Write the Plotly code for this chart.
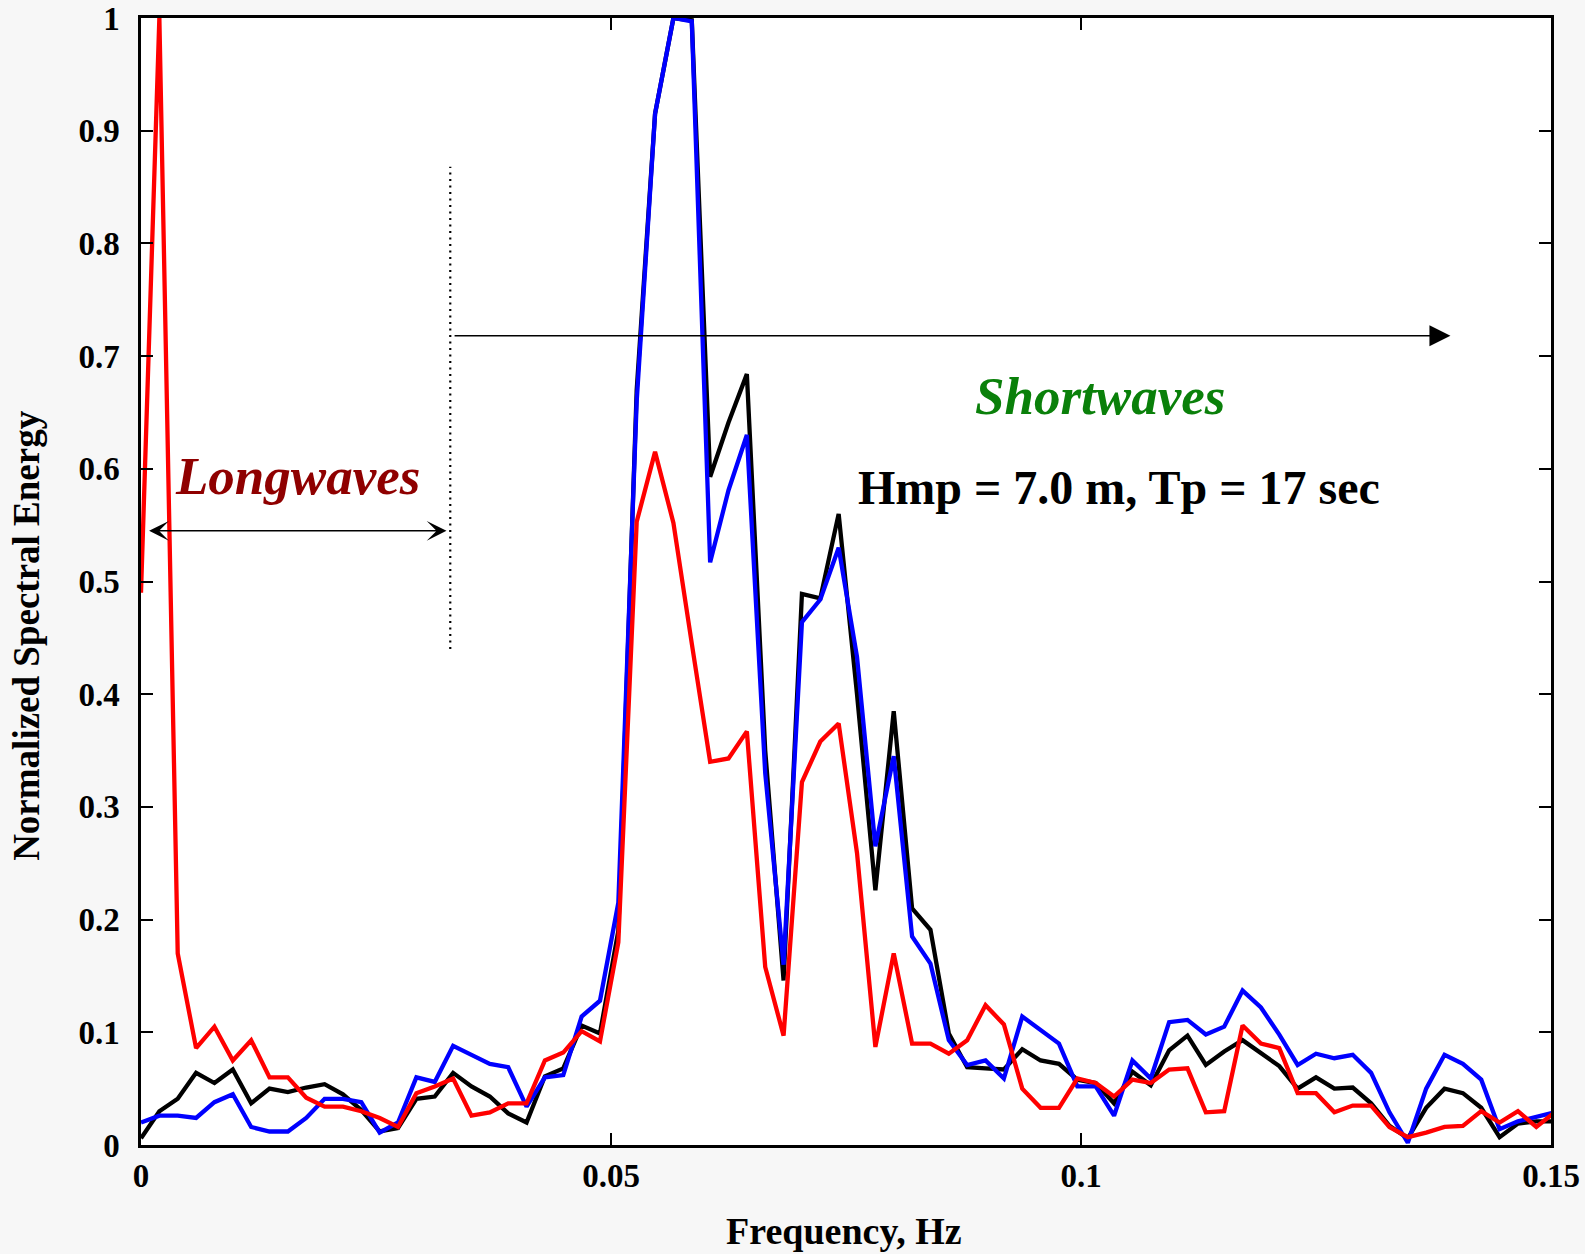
import plotly.graph_objects as go

# Spectral bins: uniform spacing of 1/512 Hz
n_bins = 78
freq = [i / 512 for i in range(n_bins)]

energy_black = [
    0.006, 0.030, 0.041, 0.064, 0.055, 0.067, 0.037, 0.050, 0.047, 0.051,
    0.054, 0.045, 0.031, 0.012, 0.015, 0.041, 0.043, 0.064, 0.052, 0.043,
    0.028, 0.020, 0.061, 0.068, 0.106, 0.099, 0.190, 0.670, 0.915, 1.000,
    0.998, 0.593, 0.641, 0.684, 0.350, 0.146, 0.489, 0.485, 0.560, 0.400,
    0.226, 0.385, 0.210, 0.191, 0.099, 0.069, 0.068, 0.067, 0.085, 0.075,
    0.072, 0.058, 0.055, 0.037, 0.065, 0.053, 0.084, 0.097, 0.071, 0.083,
    0.093, 0.081, 0.070, 0.050, 0.060, 0.050, 0.051, 0.037, 0.017, 0.006,
    0.033, 0.050, 0.046, 0.033, 0.007, 0.019, 0.021, 0.021,
]

energy_blue = [
    0.020, 0.026, 0.026, 0.024, 0.038, 0.045, 0.016, 0.012, 0.012, 0.024,
    0.041, 0.041, 0.038, 0.011, 0.020, 0.060, 0.056, 0.088, 0.080, 0.072,
    0.069, 0.034, 0.060, 0.062, 0.114, 0.128, 0.215, 0.660, 0.915, 1.000,
    0.997, 0.517, 0.581, 0.630, 0.330, 0.160, 0.464, 0.484, 0.530, 0.433,
    0.265, 0.345, 0.185, 0.161, 0.093, 0.071, 0.075, 0.059, 0.114, 0.102,
    0.090, 0.052, 0.052, 0.026, 0.075, 0.059, 0.109, 0.111, 0.098, 0.105,
    0.137, 0.122, 0.098, 0.071, 0.081, 0.077, 0.080, 0.064, 0.029, 0.002,
    0.050, 0.080, 0.072, 0.058, 0.014, 0.021, 0.025, 0.029,
]

energy_red = [
    0.490, 1.000, 0.170, 0.086, 0.105, 0.075, 0.093, 0.060, 0.060, 0.042,
    0.034, 0.034, 0.030, 0.024, 0.016, 0.046, 0.052, 0.059, 0.026, 0.029,
    0.037, 0.037, 0.075, 0.082, 0.101, 0.092, 0.180, 0.553, 0.615, 0.552,
    0.445, 0.340, 0.343, 0.367, 0.158, 0.097, 0.322, 0.358, 0.374, 0.259,
    0.087, 0.170, 0.090, 0.090, 0.081, 0.093, 0.124, 0.107, 0.050, 0.033,
    0.033, 0.059, 0.055, 0.043, 0.058, 0.055, 0.067, 0.068, 0.029, 0.030,
    0.106, 0.090, 0.086, 0.046, 0.046, 0.029, 0.035, 0.035, 0.016, 0.007,
    0.011, 0.016, 0.017, 0.030, 0.020, 0.030, 0.016, 0.029,
]

x_ticks = [0, 0.05, 0.1, 0.15]
x_tick_labels = ["0", "0.05", "0.1", "0.15"]
y_ticks = [0, 0.1, 0.2, 0.3, 0.4, 0.5, 0.6, 0.7, 0.8, 0.9, 1.0]
y_tick_labels = ["0", "0.1", "0.2", "0.3", "0.4", "0.5", "0.6", "0.7", "0.8", "0.9", "1"]

# Band separator and annotation anchors (data units)
split_freq = 0.0329
split_low, split_high = 0.44, 0.868
long_arrow_y = 0.545
short_arrow_y = 0.718
short_arrow_end = 0.1393

serif = "Liberation Serif, Times New Roman, serif"

fig = go.Figure()
for series, color in [(energy_black, "#000000"), (energy_blue, "#0000ff"), (energy_red, "#ff0000")]:
    fig.add_trace(go.Scatter(
        x=freq, y=series, mode="lines",
        line=dict(color=color, width=4.3),
        showlegend=False, hoverinfo="skip",
    ))

# Dotted divider between long- and short-wave bands
fig.add_shape(
    type="line", xref="x", yref="y",
    x0=split_freq, x1=split_freq, y0=split_low, y1=split_high,
    line=dict(color="#000000", width=2.2, dash="2px,4.5px"),
)

annotations = [
    # double-headed arrow spanning the long-wave band
    dict(x=split_freq - 0.0004, y=long_arrow_y, ax=0.0007, ay=long_arrow_y,
         xref="x", yref="y", axref="x", ayref="y", text="",
         showarrow=True, arrowhead=3, startarrowhead=3, arrowside="end+start",
         arrowsize=2.2, startarrowsize=2.2, arrowwidth=1.5, arrowcolor="#000000",
         standoff=0, startstandoff=0),
    # arrow into the short-wave band
    dict(x=short_arrow_end, y=short_arrow_y, ax=split_freq + 0.0003, ay=short_arrow_y,
         xref="x", yref="y", axref="x", ayref="y", text="",
         showarrow=True, arrowhead=2, arrowsize=2.8, arrowwidth=1.5,
         arrowcolor="#000000", standoff=0),
    dict(x=0.0167, y=0.594, xref="x", yref="y", text="Longwaves", showarrow=False,
         font=dict(family=serif, size=53, color="#8f0000", weight="bold", style="italic"),
         xanchor="center", yanchor="middle"),
    dict(x=0.1020, y=0.665, xref="x", yref="y", text="Shortwaves", showarrow=False,
         font=dict(family=serif, size=53, color="#0a800a", weight="bold", style="italic"),
         xanchor="center", yanchor="middle"),
    dict(x=0.1040, y=0.583, xref="x", yref="y", text="Hmp = 7.0 m, Tp = 17 sec",
         showarrow=False,
         font=dict(family=serif, size=48, color="#000000", weight="bold"),
         xanchor="center", yanchor="middle"),
    # axis titles
    dict(x=0.4986, y=-0.0763, xref="paper", yref="paper", text="Frequency, Hz",
         showarrow=False, font=dict(family=serif, size=38, color="#000000", weight="bold"),
         xanchor="center", yanchor="middle"),
    dict(x=-0.0809, y=0.4526, xref="paper", yref="paper", text="Normalized Spectral Energy",
         showarrow=False, textangle=-90,
         font=dict(family=serif, size=37, color="#000000", weight="bold"),
         xanchor="center", yanchor="middle"),
]
fig.update_layout(annotations=annotations)

axis_common = dict(
    showgrid=False, zeroline=False, showline=True, linecolor="#000000", linewidth=2.5,
    mirror="allticks", ticks="inside", ticklen=12, tickwidth=1.8, tickcolor="#000000",
    tickfont=dict(family=serif, size=33, color="#000000", weight="bold"),
    automargin=False,
)
fig.update_xaxes(range=[0, 0.15], tickvals=x_ticks, ticktext=x_tick_labels,
                 ticklabelstandoff=0, **axis_common)
fig.update_yaxes(range=[0, 1.0], tickvals=y_ticks, ticktext=y_tick_labels,
                 ticklabelstandoff=12, **axis_common)

fig.update_layout(
    width=1585, height=1254,
    margin=dict(l=141, r=34, t=18, b=109),
    paper_bgcolor="#f7f7f7", plot_bgcolor="#ffffff",
    showlegend=False,
)

fig.write_html("out.html")
